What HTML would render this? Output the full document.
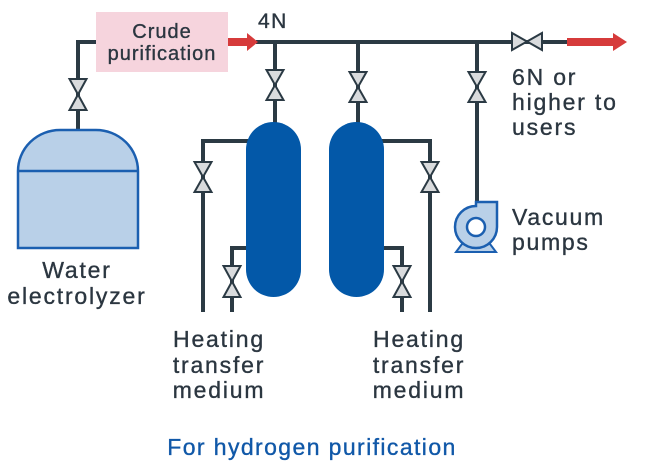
<!DOCTYPE html>
<html><head><meta charset="utf-8"><style>
html,body{margin:0;padding:0;background:#fff;}
svg{display:block;}
text{font-family:"Liberation Sans",sans-serif;fill:#2b3640;stroke:#2b3640;stroke-width:0.35px;}
</style></head><body>
<svg width="654" height="462" viewBox="0 0 654 462" xmlns="http://www.w3.org/2000/svg">
<g fill="none" stroke="#2b3a44" stroke-width="4">
  <path d="M78,130 L78,42 L96,42"/>
  <path d="M256,42 L568,42"/>
  <path d="M275,42 L275,124"/>
  <path d="M358,42 L358,124"/>
  <path d="M477,42 L477,205"/>
  <path d="M248,141 L203,141 L203,312"/>
  <path d="M248,248 L232,248 L232,312"/>
  <path d="M382,141 L430,141 L430,312"/>
  <path d="M382,248 L402,248 L402,312"/>
</g>
<rect x="96" y="12" width="132" height="60" fill="#f6d4dd"/>
<text x="162" y="38" font-size="20" text-anchor="middle" letter-spacing="1">Crude</text>
<text x="162" y="60" font-size="20" text-anchor="middle" letter-spacing="1">purification</text>
<text x="258" y="28" font-size="21" letter-spacing="1.5">4N</text>
<g fill="#d63b3b">
  <rect x="228" y="38" width="21" height="8"/>
  <polygon points="247,33 258,42 247,51"/>
  <rect x="567" y="38" width="48" height="8"/>
  <polygon points="613,33 627,42 613,51"/>
</g>
<path d="M18,171 A42,41 0 0 1 60,130 L96,130 A42,41 0 0 1 138,171 L138,248 L18,248 Z" fill="#b9d0e8" stroke="#1b5fb0" stroke-width="2.5"/>
<line x1="18" y1="171" x2="138" y2="171" stroke="#1b5fb0" stroke-width="2.5"/>
<rect x="246" y="122" width="55" height="175" rx="27.5" ry="27.5" fill="#0358a8"/>
<rect x="329" y="122" width="55" height="175" rx="27.5" ry="27.5" fill="#0358a8"/>
<g fill="#d9dbdd" stroke="#2b3a44" stroke-width="2" stroke-linejoin="miter">
  <polygon points="69.5,79 86.5,79 78,94.5"/><polygon points="69.5,110 86.5,110 78,94.5"/>
  <polygon points="266.5,70 283.5,70 275,85"/><polygon points="266.5,100 283.5,100 275,85"/>
  <polygon points="349.5,72 366.5,72 358,87"/><polygon points="349.5,102 366.5,102 358,87"/>
  <polygon points="468.5,72 485.5,72 477,87"/><polygon points="468.5,102 485.5,102 477,87"/>
  <polygon points="194.5,162 211.5,162 203,177"/><polygon points="194.5,192 211.5,192 203,177"/>
  <polygon points="223.5,266 240.5,266 232,281.5"/><polygon points="223.5,297 240.5,297 232,281.5"/>
  <polygon points="393.5,266 410.5,266 402,281.5"/><polygon points="393.5,297 410.5,297 402,281.5"/>
  <polygon points="421.5,162 438.5,162 430,177"/><polygon points="421.5,192 438.5,192 430,177"/>
  <polygon points="512,33 512,50 527,41.5"/><polygon points="542,33 542,50 527,41.5"/>
</g>
<polygon points="462,244 490,244 496,252 456,252" fill="#b9d0e8" stroke="#1b5fb0" stroke-width="2"/>
<path d="M497,227 A21,21 0 1 1 476,206 L476,202 L497,202 Z" fill="#b9d0e8" stroke="#1b5fb0" stroke-width="2.5"/>
<circle cx="476" cy="227" r="9" fill="#fff" stroke="#1b5fb0" stroke-width="2.5"/>
<text x="77" y="278" font-size="23" text-anchor="middle" letter-spacing="1.8">Water</text>
<text x="77" y="304" font-size="23" text-anchor="middle" letter-spacing="1.8">electrolyzer</text>
<text x="512" y="85" font-size="23" letter-spacing="1.8">6N or</text>
<text x="512" y="110" font-size="23" letter-spacing="1.8">higher to</text>
<text x="512" y="135" font-size="23" letter-spacing="1.8">users</text>
<text x="512" y="225" font-size="23" letter-spacing="1.7">Vacuum</text>
<text x="512" y="250" font-size="23" letter-spacing="1.7">pumps</text>
<text x="219" y="347" font-size="23" text-anchor="middle" letter-spacing="1.8">Heating</text>
<text x="219" y="373" font-size="23" text-anchor="middle" letter-spacing="1.8">transfer</text>
<text x="219" y="398" font-size="23" text-anchor="middle" letter-spacing="1.8">medium</text>
<text x="419" y="347" font-size="23" text-anchor="middle" letter-spacing="1.8">Heating</text>
<text x="419" y="373" font-size="23" text-anchor="middle" letter-spacing="1.8">transfer</text>
<text x="419" y="398" font-size="23" text-anchor="middle" letter-spacing="1.8">medium</text>
<text x="312" y="455" font-size="23" text-anchor="middle" letter-spacing="1.4" style="fill:#1058a8;stroke:#1058a8">For hydrogen purification</text>
</svg>
</body></html>
